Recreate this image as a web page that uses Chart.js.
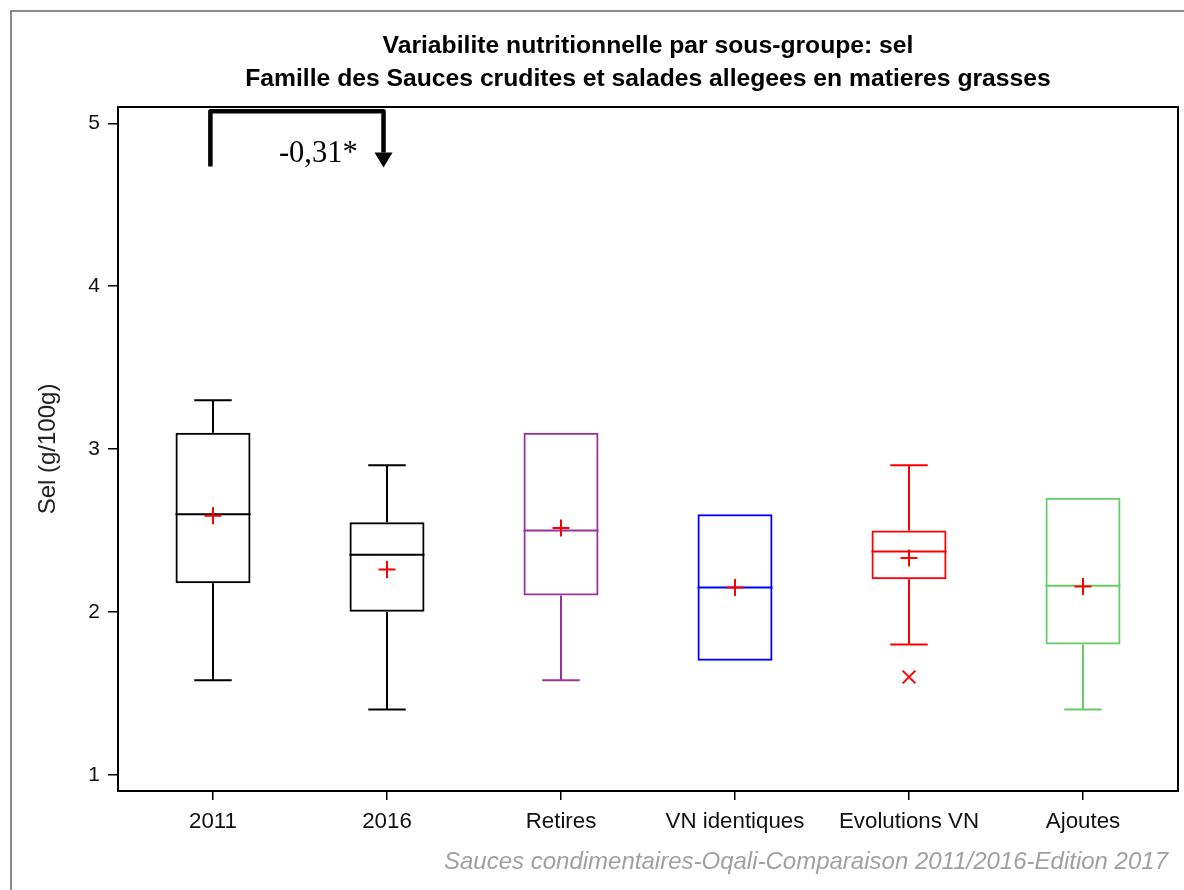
<!DOCTYPE html>
<html><head><meta charset="utf-8">
<script src="https://cdn.jsdelivr.net/npm/chart.js@4.4.1/dist/chart.umd.min.js"></script>
<style>html,body{margin:0;padding:0;background:#fff}canvas{display:block}</style>
</head><body>
<canvas id="c" width="1184" height="890"></canvas>
<script>
// ---- data ----
const categories = ['2011', '2016', 'Retires', 'VN identiques', 'Evolutions VN', 'Ajoutes'];
const whiskerLow  = [1.58, 1.40, 1.58, 1.70, 1.80, 1.40];
const q1          = [2.175, 2.00, 2.10, 1.70, 2.20, 1.80];
const medians     = [2.60, 2.35, 2.50, 2.15, 2.37, 2.16];
const q3          = [3.10, 2.55, 3.10, 2.60, 2.50, 2.70];
const whiskerHigh = [3.30, 2.90, 3.10, 2.60, 2.90, 2.70];
const means       = [2.59, 2.26, 2.515, 2.15, 2.33, 2.155];
const outlierCats = [4];
const outlierVals = [1.60];
const yTicks = [1, 2, 3, 4, 5];
const boxColors = ['#000000', '#000000', '#993399', '#0000ff', '#ff0000', '#66cc66'];
const titleLines = ['Variabilite nutritionnelle par sous-groupe: sel',
                    'Famille des Sauces crudites et salades allegees en matieres grasses'];
const footnote = 'Sauces condimentaires-Oqali-Comparaison 2011/2016-Edition 2017';
const yLabel = 'Sel (g/100g)';
const diffLabel = '-0,31*';
const diffFrom = 0, diffTo = 1;

const SANS = '"Liberation Sans", Arial, sans-serif';

const extras = {
  id: 'extras',
  beforeDraw(chart) {
    const ctx = chart.ctx;
    ctx.save();
    ctx.fillStyle = '#fff';
    ctx.fillRect(0, 0, chart.width, chart.height);
    ctx.strokeStyle = '#666';
    ctx.lineWidth = 1.5;
    ctx.strokeRect(11, 11, chart.width + 20, chart.height + 20);
    ctx.restore();
  },
  beforeDatasetsDraw(chart) {
    const ctx = chart.ctx;
    const ys = chart.scales.y;
    const meta = chart.getDatasetMeta(2);
    ctx.save();
    ctx.lineWidth = 2;
    meta.data.forEach((el, i) => {
      const cx = el.x, w = el.width;
      ctx.strokeStyle = boxColors[i];
      ctx.beginPath();
      const ym = ys.getPixelForValue(medians[i]);
      ctx.moveTo(cx - w / 2, ym); ctx.lineTo(cx + w / 2, ym);
      if (whiskerHigh[i] > q3[i]) {
        const a = ys.getPixelForValue(q3[i]), b = ys.getPixelForValue(whiskerHigh[i]);
        ctx.moveTo(cx, a); ctx.lineTo(cx, b);
        ctx.moveTo(cx - w / 4, b); ctx.lineTo(cx + w / 4, b);
      }
      if (whiskerLow[i] < q1[i]) {
        const a = ys.getPixelForValue(q1[i]), b = ys.getPixelForValue(whiskerLow[i]);
        ctx.moveTo(cx, a); ctx.lineTo(cx, b);
        ctx.moveTo(cx - w / 4, b); ctx.lineTo(cx + w / 4, b);
      }
      ctx.stroke();
    });
    ctx.restore();
  },
  afterDraw(chart) {
    const ctx = chart.ctx;
    const a = chart.chartArea;
    const xs = chart.scales.x, ys = chart.scales.y;
    ctx.save();
    ctx.strokeStyle = '#000';
    ctx.lineWidth = 2;
    ctx.strokeRect(a.left, a.top, a.right - a.left, a.bottom - a.top);
    const cx = (a.left + a.right) / 2;
    ctx.fillStyle = '#000';
    ctx.font = 'bold 24.7px ' + SANS;
    ctx.textAlign = 'center';
    ctx.textBaseline = 'middle';
    ctx.fillText(titleLines[0], cx, 46);
    ctx.fillText(titleLines[1], cx, 79);
    ctx.font = 'italic 24px ' + SANS;
    ctx.fillStyle = '#a0a0a0';
    ctx.textAlign = 'right';
    ctx.fillText(footnote, 1168, 862);
    ctx.save();
    ctx.translate(48, (a.top + a.bottom) / 2);
    ctx.rotate(-Math.PI / 2);
    ctx.textAlign = 'center';
    ctx.fillStyle = '#222';
    ctx.font = '24px ' + SANS;
    ctx.fillText(yLabel, 0, 0);
    ctx.restore();
    const xl = xs.getPixelForValue(diffFrom - 0.015);
    const xr = xs.getPixelForValue(diffTo - 0.02);
    const yt = ys.getPixelForValue(5.074);
    const yb = ys.getPixelForValue(4.735);
    const yh = ys.getPixelForValue(4.82);
    ctx.strokeStyle = '#000';
    ctx.fillStyle = '#000';
    ctx.lineWidth = 4.5;
    ctx.lineJoin = 'round';
    ctx.beginPath();
    ctx.moveTo(xl, yb);
    ctx.lineTo(xl, yt);
    ctx.lineTo(xr, yt);
    ctx.lineTo(xr, yh);
    ctx.stroke();
    ctx.beginPath();
    ctx.moveTo(xr - 9, yh);
    ctx.lineTo(xr + 9, yh);
    ctx.lineTo(xr, yb + 1);
    ctx.closePath();
    ctx.fill();
    ctx.font = '30.5px "Liberation Serif", "Times New Roman", serif';
    ctx.textAlign = 'center';
    ctx.textBaseline = 'middle';
    ctx.fillText(diffLabel, xs.getPixelForValue(0.605), ys.getPixelForValue(4.81));
    ctx.restore();
  }
};

new Chart(document.getElementById('c'), {
  type: 'bar',
  data: {
    datasets: [
      {
        type: 'line', label: 'Moyenne', order: 0,
        data: means.map((v, i) => ({x: i, y: v})),
        showLine: false, pointStyle: 'cross', pointRadius: 8.5, pointBorderWidth: 2,
        borderColor: '#ff0000', backgroundColor: '#ff0000'
      },
      {
        type: 'line', label: 'Extremes', order: 1,
        data: outlierCats.map((c, i) => ({x: c, y: outlierVals[i]})),
        showLine: false, pointStyle: 'crossRot', pointRadius: 9, pointBorderWidth: 2,
        borderColor: '#ff0000', backgroundColor: '#ff0000'
      },
      {
        type: 'bar', label: 'Boites', order: 2,
        data: q1.map((v, i) => ({x: i, y: [v, q3[i]]})),
        backgroundColor: 'rgba(0,0,0,0)',
        borderColor: boxColors,
        borderWidth: 2,
        borderSkipped: false,
        barPercentage: 0.431,
        categoryPercentage: 1
      }
    ]
  },
  options: {
    responsive: false,
    animation: false,
    layout: {autoPadding: false, padding: {top: 107, right: 6, left: 0, bottom: 0}},
    plugins: {legend: {display: false}, tooltip: {enabled: false}, title: {display: false}},
    scales: {
      x: {
        type: 'linear',
        offset: false,
        min: -0.546, max: 5.546,
        afterBuildTicks: s => { s.ticks = categories.map((_, i) => ({value: i})); },
        afterFit: s => { s.height = 99; s.paddingLeft = 0; s.paddingRight = 0; },
        ticks: {
          callback: v => categories[v],
          autoSkip: false, maxRotation: 0,
          font: {family: SANS, size: 22.3}, color: '#111', padding: 8
        },
        grid: {display: true, offset: false, drawOnChartArea: false, drawTicks: true, tickLength: 9, color: '#000', lineWidth: 1.5},
        border: {display: true, color: '#000', width: 2}
      },
      y: {
        type: 'linear',
        min: 0.9, max: 5.1,
        afterBuildTicks: s => { s.ticks = yTicks.map(v => ({value: v})); },
        afterFit: s => { s.width = 118; },
        ticks: {font: {family: SANS, size: 21}, color: '#111', padding: 8},
        grid: {display: true, drawOnChartArea: false, drawTicks: true, tickLength: 10, color: '#000', lineWidth: 1.5},
        border: {display: true, color: '#000', width: 2}
      }
    }
  },
  plugins: [extras]
});
</script>
</body></html>
